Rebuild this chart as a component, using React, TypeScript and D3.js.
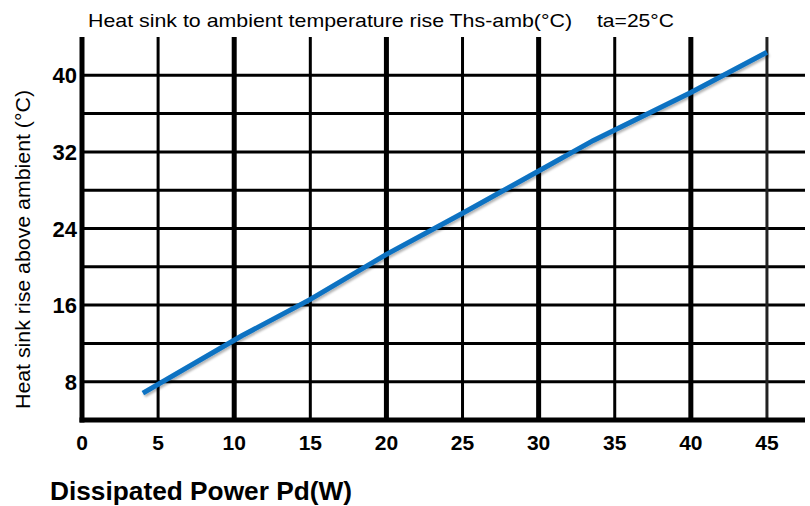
import * as d3 from 'd3';
import React from 'react';

// x: dissipated power (W), y: heat sink rise above ambient (°C)
const powerW = [4, 10.5, 15, 20, 25, 30, 33.6, 40, 45];
const riseC = [6.8, 12.8, 16.6, 21.3, 25.6, 30.0, 33.2, 38.2, 42.4];

const xTicks = [0, 5, 10, 15, 20, 25, 30, 35, 40, 45];
const yLabelTicks = [8, 16, 24, 32, 40];
const yGridTicks = [8, 12, 16, 20, 24, 28, 32, 36, 40];

const titleText = 'Heat sink to ambient temperature rise Ths-amb(°C)';
const ambientText = 'ta=25°C';
const xTitle = 'Dissipated Power Pd(W)';
const yTitle = 'Heat sink rise above ambient (°C)';

const W = 810;
const H = 506;
const font = 'Arial, "Liberation Sans", sans-serif';

export default function App() {
  const x = d3.scaleLinear().domain([0, 47.5]).range([82, 805]);
  const y = d3.scaleLinear().domain([4, 44]).range([420, 37]);

  const data = powerW.map((p, i) => [p, riseC[i]] as [number, number]);
  const line = d3.line<[number, number]>()
    .x(d => x(d[0]))
    .y(d => y(d[1]));

  return (
    <svg width={W} height={H} style={{ position: 'absolute', left: 0, top: 0, background: '#fff' }}>
      <defs>
        <filter id="shadow" x="-10%" y="-10%" width="120%" height="130%">
          <feDropShadow dx="1.5" dy="2" stdDeviation="1.2" floodColor="#000" floodOpacity="0.3" />
        </filter>
      </defs>

      {/* horizontal grid */}
      {yGridTicks.map(v => (
        <line key={'h' + v} x1={x(0)} x2={805} y1={y(v)} y2={y(v)} stroke="#000" strokeWidth={3} />
      ))}

      {/* vertical grid, every 10 W is heavier */}
      {xTicks.filter(v => v > 0).map(v => (
        <line key={'v' + v} x1={x(v)} x2={x(v)} y1={y(44)} y2={y(4)}
          stroke={v === 45 ? '#222' : '#000'} strokeWidth={v % 10 === 0 ? 5 : 3} />
      ))}

      {/* axes */}
      <line x1={x(0)} x2={x(0)} y1={y(44)} y2={y(4) + 2.5} stroke="#000" strokeWidth={5} />
      <line x1={x(0) - 2.5} x2={805} y1={y(4)} y2={y(4)} stroke="#000" strokeWidth={5} />

      <path d={line(data) || ''} fill="none" stroke="#0a72c2" strokeWidth={5} filter="url(#shadow)" />

      {yLabelTicks.map(v => (
        <text key={'yl' + v} x={77} y={y(v) + 8} textAnchor="end"
          fontFamily={font} fontWeight="bold" fontSize={22} fill="#000">{v}</text>
      ))}
      {xTicks.map(v => (
        <text key={'xl' + v} x={x(v)} y={450} textAnchor="middle"
          fontFamily={font} fontWeight="bold" fontSize={21} fill="#000">{v}</text>
      ))}

      <text x={88} y={27} fontFamily={font} fontSize={19} fill="#000"
        textLength={484} lengthAdjust="spacingAndGlyphs">{titleText}</text>
      <text x={597} y={27} fontFamily={font} fontSize={19} fill="#000"
        textLength={77} lengthAdjust="spacingAndGlyphs">{ambientText}</text>

      <text x={50} y={500} fontFamily={font} fontWeight="bold" fontSize={25} fill="#000"
        textLength={302} lengthAdjust="spacingAndGlyphs">{xTitle}</text>

      <text transform="translate(30,409) rotate(-90)"
        fontFamily={font} fontSize={20} fill="#000"
        textLength={319} lengthAdjust="spacingAndGlyphs">{yTitle}</text>
    </svg>
  );
}
